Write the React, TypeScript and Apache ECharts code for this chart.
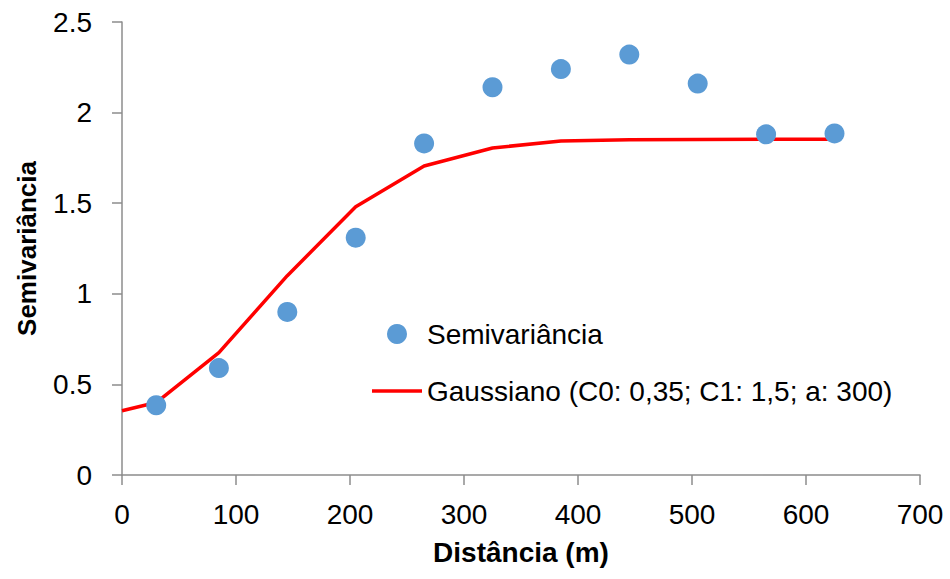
import React, { useEffect, useRef } from "react";
import * as echarts from "echarts";

const scatterX = [30, 85, 145, 205, 265, 325, 385, 445, 505, 565, 625];
const scatterY = [0.385, 0.59, 0.9, 1.31, 1.83, 2.14, 2.24, 2.32, 2.16, 1.88, 1.885];

const modelX = [0, 30, 85, 145, 205, 265, 325, 385, 445, 505, 565, 625];
const modelY = [0.355, 0.4, 0.675, 1.1, 1.48, 1.705, 1.805, 1.843, 1.85, 1.852, 1.853, 1.853];

const xTicks = { min: 0, max: 700, interval: 100 };
const yTicks = { min: 0, max: 2.5, interval: 0.5 };

const FONT = "'Liberation Sans', Arial, sans-serif";
const AXIS_COLOR = "#8c8c8c";

export default function App() {
  const ref = useRef<HTMLDivElement>(null);
  useEffect(() => {
    if (!ref.current) return;
    const chart = echarts.init(ref.current, undefined, { renderer: "svg" });
    const axisCommon = {
      axisLine: { show: true, lineStyle: { color: AXIS_COLOR, width: 1.5 } },
      axisTick: { show: true, inside: false, length: 10, lineStyle: { color: AXIS_COLOR, width: 1.5 } },
      splitLine: { show: false },
    };
    chart.setOption({
      animation: false,
      backgroundColor: "#fff",
      textStyle: { fontFamily: FONT },
      grid: { left: 122, top: 22, right: 30, bottom: 104, containLabel: false },
      xAxis: {
        type: "value",
        ...xTicks,
        name: "Distância (m)",
        nameLocation: "middle",
        nameGap: 63,
        nameTextStyle: { fontFamily: FONT, fontSize: 28, fontWeight: "bold", color: "#000" },
        ...axisCommon,
        axisLabel: { fontFamily: FONT, fontSize: 28, color: "#000", margin: 25 },
      },
      yAxis: {
        type: "value",
        ...yTicks,
        name: "Semivariância",
        nameLocation: "middle",
        nameGap: 82,
        nameTextStyle: { fontFamily: FONT, fontSize: 26, fontWeight: "bold", color: "#000" },
        ...axisCommon,
        axisLabel: { fontFamily: FONT, fontSize: 28, color: "#000", margin: 30 },
      },
      legend: {
        orient: "vertical",
        left: 372,
        top: 320,
        padding: 0,
        itemWidth: 50,
        itemHeight: 20,
        itemGap: 29,
        textStyle: { fontFamily: FONT, fontSize: 28, color: "#000" },
        data: [
          { name: "Semivariância", icon: "circle" },
          { name: "Gaussiano (C0: 0,35; C1: 1,5; a: 300)", icon: "path://M0,0 H50 V3.5 H0 Z" },
        ],
      },
      series: [
        {
          name: "Gaussiano (C0: 0,35; C1: 1,5; a: 300)",
          type: "line",
          data: modelX.map((x, i) => [x, modelY[i]]),
          showSymbol: false,
          symbol: "none",
          lineStyle: { color: "#ff0000", width: 3.5 },
          itemStyle: { color: "#ff0000" },
          z: 2,
        },
        {
          name: "Semivariância",
          type: "scatter",
          data: scatterX.map((x, i) => [x, scatterY[i]]),
          symbol: "circle",
          symbolSize: 20,
          itemStyle: { color: "#5b9bd5", opacity: 1 },
          z: 3,
        },
      ],
    });
    return () => chart.dispose();
  }, []);
  return (
    <div
      ref={ref}
      style={{ position: "fixed", left: 0, top: 0, width: 950, height: 579, background: "#fff" }}
    />
  );
}
